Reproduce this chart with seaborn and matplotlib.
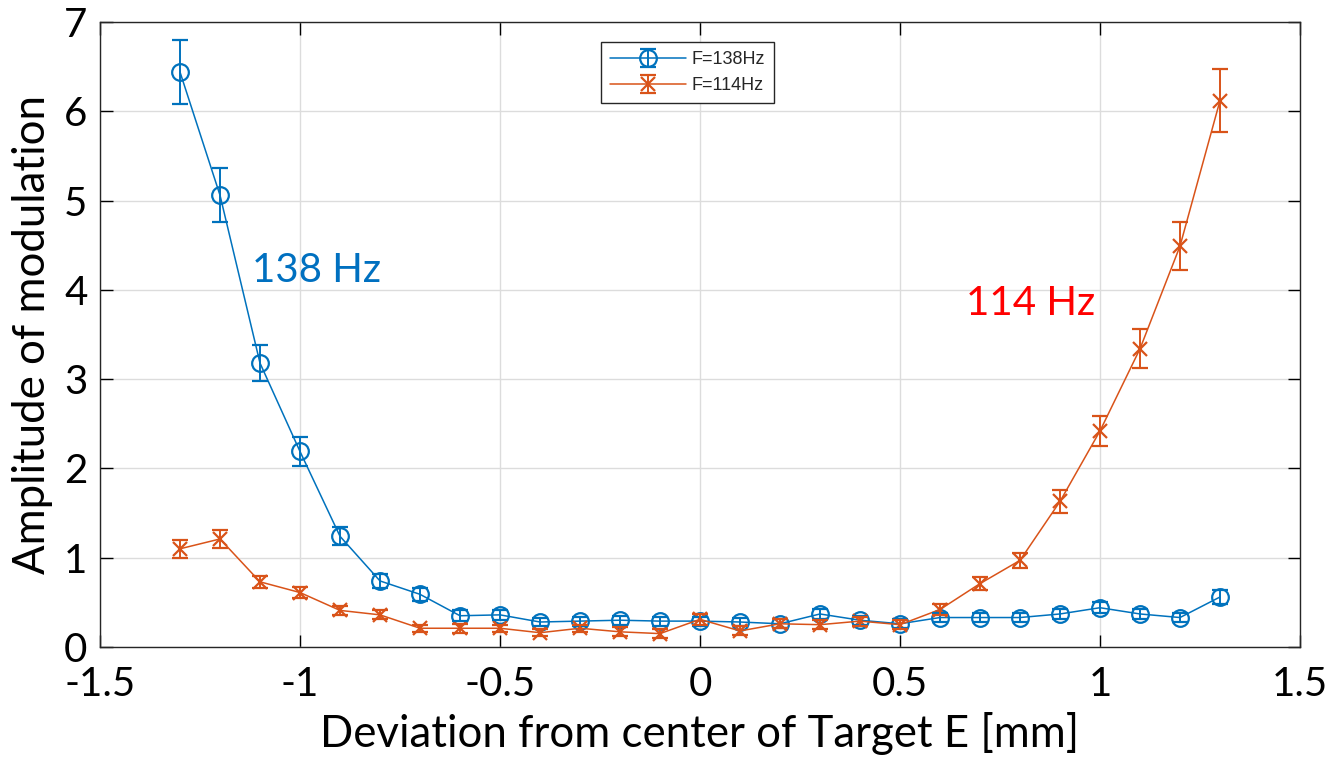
import matplotlib
matplotlib.use("Agg")
import matplotlib.pyplot as plt
import seaborn as sns
import pandas as pd
from matplotlib.legend_handler import HandlerTuple

deviation = [-1.3, -1.2, -1.1, -1.0, -0.9, -0.8, -0.7, -0.6, -0.5, -0.4, -0.3, -0.2, -0.1, 0.0,
             0.1, 0.2, 0.3, 0.4, 0.5, 0.6, 0.7, 0.8, 0.9, 1.0, 1.1, 1.2, 1.3]
amp_138 = [6.44, 5.06, 3.18, 2.19, 1.24, 0.74, 0.59, 0.35, 0.36, 0.28, 0.29, 0.30, 0.29, 0.29,
           0.28, 0.26, 0.37, 0.30, 0.26, 0.33, 0.33, 0.33, 0.37, 0.44, 0.37, 0.33, 0.56]
err_138 = [0.36, 0.30, 0.20, 0.16, 0.10, 0.08, 0.07, 0.06, 0.06, 0.05, 0.05, 0.05, 0.05, 0.05,
           0.05, 0.05, 0.06, 0.05, 0.05, 0.05, 0.05, 0.05, 0.06, 0.06, 0.06, 0.05, 0.08]
amp_114 = [1.10, 1.21, 0.73, 0.61, 0.41, 0.36, 0.21, 0.21, 0.21, 0.16, 0.21, 0.17, 0.15, 0.31,
           0.18, 0.26, 0.25, 0.29, 0.25, 0.42, 0.71, 0.97, 1.63, 2.42, 3.34, 4.49, 6.12]
err_114 = [0.10, 0.10, 0.07, 0.06, 0.05, 0.05, 0.04, 0.05, 0.04, 0.04, 0.04, 0.05, 0.05, 0.06,
           0.05, 0.05, 0.05, 0.05, 0.05, 0.06, 0.07, 0.08, 0.13, 0.17, 0.22, 0.27, 0.35]
labels = ["F=138Hz", "F=114Hz"]
x_ticks = [-1.5, -1, -0.5, 0, 0.5, 1, 1.5]
x_ticklabels = ["-1.5", "-1", "-0.5", "0", "0.5", "1", "1.5"]
y_ticks = [0, 1, 2, 3, 4, 5, 6, 7]

sns.set_theme(style="whitegrid")
plt.rcParams['font.family'] = ['Lato', 'DejaVu Sans']

blue = "#0072BD"
orange = "#D95319"

fig = plt.figure(figsize=(13.32, 7.59), dpi=100)
ax = fig.add_axes([100/1332, 112/759, 1200/1332, 625/759])

df = pd.DataFrame({"x": deviation, "a138": amp_138, "a114": amp_114})

sns.lineplot(data=df, x="x", y="a138", ax=ax, color=blue, linewidth=1.1,
             marker="o", markersize=12, markerfacecolor="none",
             markeredgecolor=blue, markeredgewidth=1.6, legend=False, zorder=3)
sns.lineplot(data=df, x="x", y="a114", ax=ax, color=orange, linewidth=1.1,
             marker="x", markersize=10, markeredgecolor=orange,
             markeredgewidth=1.6, legend=False, zorder=3)
l1, l2 = ax.get_lines()[0], ax.get_lines()[1]

e1 = ax.errorbar(deviation, amp_138, yerr=err_138, fmt="none", ecolor=blue,
                 elinewidth=1.4, capsize=5.5, capthick=1.6, zorder=3)
e2 = ax.errorbar(deviation, amp_114, yerr=err_114, fmt="none", ecolor=orange,
                 elinewidth=1.4, capsize=5.5, capthick=1.6, zorder=3)

ax.set_xlim(-1.5, 1.5)
ax.set_ylim(0, 7)
ax.set_xticks(x_ticks)
ax.set_xticklabels(x_ticklabels)
ax.set_yticks(y_ticks)
ax.set_xlabel("Deviation from center of Target E [mm]", fontsize=31.5, color="black", labelpad=6)
ax.set_ylabel("Amplitude of modulation", fontsize=31.5, color="black", labelpad=8)
ax.tick_params(axis="both", labelsize=29, colors="black", direction="in",
               length=9, width=1, top=True, right=True, bottom=True, left=True)
ax.tick_params(axis="x", pad=14)
ax.tick_params(axis="y", pad=9)
for t in ax.get_xticklines() + ax.get_yticklines():
    t.set_color("#262626")

ax.set_facecolor("white")
ax.grid(True, color="#dcdcdc", linewidth=1.0)
for s in ax.spines.values():
    s.set_visible(True)
    s.set_color("#262626")
    s.set_linewidth(1.0)

ax.text(-1.12, 4.22, "138 Hz", fontsize=29, color="#0070C0", ha="left", va="center")
ax.text(0.665, 3.85, "114 Hz", fontsize=29, color="#FF0000", ha="left", va="center")

leg = ax.legend([(e1, l1), (e2, l2)], labels,
                handler_map={tuple: HandlerTuple(ndivide=1)},
                loc="upper left", bbox_to_anchor=(501/1200, 605/625),
                borderaxespad=0, frameon=True, fancybox=False, framealpha=1,
                edgecolor="#262626", prop={"family": "Liberation Sans", "size": 13},
                handlelength=4.2, handletextpad=0.3, labelspacing=0.5,
                borderpad=0.5, numpoints=1)
leg.get_frame().set_linewidth(1.0)

fig.savefig("out.png", dpi=100, facecolor="white")
